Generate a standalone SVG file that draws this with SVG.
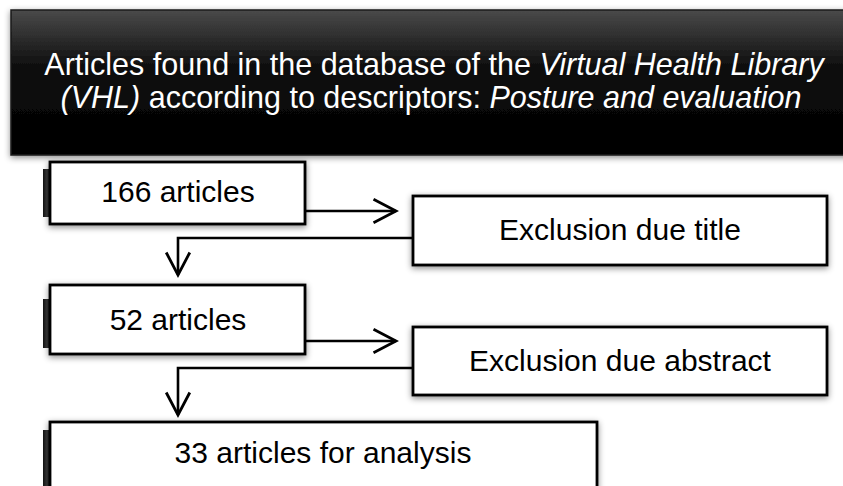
<svg xmlns="http://www.w3.org/2000/svg" width="843" height="486" viewBox="0 0 843 486">
  <defs>
    <linearGradient id="hdr" x1="0" y1="0" x2="0" y2="1">
      <stop offset="0" stop-color="#4a4a4a"/>
      <stop offset="0.4" stop-color="#0d0d0d"/>
      <stop offset="1" stop-color="#000"/>
    </linearGradient>
    <linearGradient id="tab" x1="0" y1="0" x2="1" y2="0">
      <stop offset="0" stop-color="#111"/>
      <stop offset="0.5" stop-color="#3a3a3a"/>
      <stop offset="1" stop-color="#000"/>
    </linearGradient>
    <filter id="sh" x="-10%" y="-20%" width="120%" height="150%">
      <feDropShadow dx="0" dy="2" stdDeviation="3" flood-color="#000" flood-opacity="0.45"/>
    </filter>
    <marker id="arr" markerUnits="userSpaceOnUse" markerWidth="30" markerHeight="30" viewBox="-24 -14 28 28" refX="0" refY="0" orient="auto">
      <path d="M-21,-11 L0,0 L-21,11" fill="none" stroke="#000" stroke-width="2.6"/>
    </marker>
  </defs>
  <style>
    .box{fill:#fff;stroke:#000;stroke-width:2.8;filter:url(#sh)}
    .tab{fill:url(#tab)}
    .t{font-family:"Liberation Sans",Arial,sans-serif;font-size:30px;fill:#000;text-anchor:middle}
    .h{font-family:"Liberation Sans",Arial,sans-serif;font-size:30.5px;fill:#fff;text-anchor:middle}
    .c{fill:none;stroke:#000;stroke-width:2.6}
  </style>
  <rect width="843" height="486" fill="#fff"/>

  <g id="header">
    <rect x="11" y="10" width="850" height="145" fill="url(#hdr)" stroke="#1a1a1a" stroke-width="1.5" filter="url(#sh)"/>
    <text class="h" x="434" y="75">Articles found in the database of the <tspan font-style="italic">Virtual Health Library</tspan></text>
    <text class="h" x="431" y="108"><tspan font-style="italic">(VHL)</tspan> according to descriptors: <tspan font-style="italic">Posture and evaluation</tspan></text>
  </g>

  <g id="n166">
    <rect class="tab" x="43" y="169" width="8" height="48"/>
    <rect class="box" x="50" y="162" width="255" height="62"/>
    <text class="t" x="178" y="202">166 articles</text>
  </g>

  <g id="exclTitle">
    <rect class="box" x="413" y="196" width="414" height="69"/>
    <text class="t" x="620" y="240">Exclusion due title</text>
  </g>

  <g id="n52">
    <rect class="tab" x="43" y="299" width="8" height="49"/>
    <rect class="box" x="50" y="285" width="255" height="69"/>
    <text class="t" x="178" y="330">52 articles</text>
  </g>

  <g id="exclAbstract">
    <rect class="box" x="413" y="327" width="414" height="68"/>
    <text class="t" x="620" y="371">Exclusion due abstract</text>
  </g>

  <g id="n33">
    <rect class="tab" x="43" y="430" width="8" height="70"/>
    <rect class="box" x="50" y="422" width="547" height="80"/>
    <text class="t" x="323" y="463">33 articles for analysis</text>
  </g>

  <g id="connectors">
    <path class="c" d="M305,211 L396,211" marker-end="url(#arr)"/>
    <path class="c" d="M413,238 L178,238 L178,275" marker-end="url(#arr)"/>
    <path class="c" d="M305,341 L396,341" marker-end="url(#arr)"/>
    <path class="c" d="M413,368 L178,368 L178,415" marker-end="url(#arr)"/>
  </g>
</svg>
